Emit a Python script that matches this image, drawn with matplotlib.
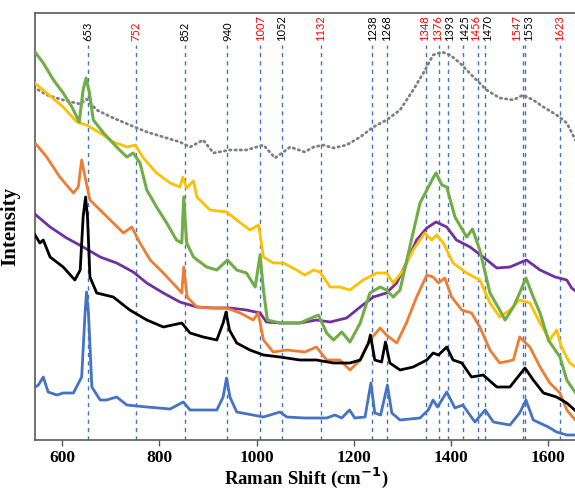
import matplotlib.pyplot as plt

# Raman shift (cm-1) and intensity (arb. units)
gray_x = [541, 568, 602, 637, 650, 671, 705, 739, 774, 808, 842, 863, 890, 911, 945, 979, 1014, 1038, 1069, 1099,
          1117, 1137, 1158, 1185, 1213, 1240, 1267, 1295, 1322, 1343, 1363, 1381, 1398, 1418, 1446, 1473, 1500,
          1528, 1548, 1569, 1590, 1617, 1638, 1659]
gray_y = [353, 345, 340, 336, 341, 330, 322, 315, 308, 303, 298, 293, 300, 287, 290, 290, 295, 282, 293, 288,
          293, 295, 292, 295, 303, 313, 320, 330, 350, 367, 385, 388, 385, 377, 363, 350, 342,
          340, 345, 340, 333, 325, 317, 297]

green_x = [544, 561, 582, 602, 620, 635, 643, 649, 656, 664, 685, 712, 733, 746, 760, 774, 794, 815, 835, 846,
           850, 856, 870, 897, 918, 940, 959, 979, 997, 1007, 1014, 1022, 1048, 1089, 1127, 1144, 1158, 1175,
           1192, 1213, 1233, 1254, 1267, 1281, 1295, 1315, 1336, 1350, 1363, 1369, 1381, 1391, 1408, 1432,
           1444, 1459, 1480, 1500, 1511, 1528, 1541, 1554, 1569, 1583, 1600, 1624, 1638, 1659]
green_y = [388, 377, 360, 347, 333, 318, 350, 362, 347, 320, 307, 293, 283, 287, 277, 250, 233, 217, 200, 197,
           243, 197, 183, 173, 170, 180, 170, 167, 153, 185, 150, 120, 117, 117, 125, 107, 100, 108,
           98, 117, 147, 153, 150, 143, 150, 193, 237, 250, 262, 267, 255, 253, 223, 203,
           211, 190, 147, 130, 120, 133, 147, 162, 143, 127, 100, 83, 60, 45]

yellow_x = [541, 568, 602, 630, 650, 678, 705, 733, 750, 767, 794, 822, 842, 848, 856, 870, 877, 904, 938, 959,
            986, 1004, 1014, 1034, 1055, 1082, 1099, 1117, 1130, 1151, 1171, 1192, 1219, 1247, 1267, 1281,
            1302, 1322, 1346, 1360, 1370, 1384, 1404, 1432, 1459, 1480, 1500, 1521, 1541, 1562, 1583, 1603,
            1617, 1627, 1644, 1659]
yellow_y = [358, 347, 333, 318, 315, 307, 298, 293, 295, 282, 267, 257, 253, 263, 252, 259, 243, 230, 228, 220,
            210, 215, 183, 177, 177, 170, 165, 170, 168, 153, 153, 150, 160, 167, 167, 157,
            170, 190, 207, 200, 205, 197, 177, 167, 160, 137, 123, 130, 140, 137, 117, 100,
            110, 93, 77, 72]

orange_x = [544, 568, 595, 623, 633, 640, 647, 657, 678, 705, 726, 743, 760, 781, 808, 835, 846, 850, 857, 877,
            904, 938, 966, 993, 1003, 1014, 1034, 1062, 1099, 1123, 1144, 1171, 1192, 1213, 1233, 1254, 1267,
            1288, 1308, 1329, 1350, 1363, 1374, 1387, 1401, 1422, 1442, 1459, 1480, 1500, 1528, 1541, 1562,
            1583, 1603, 1624, 1638, 1659]
orange_y = [297, 283, 263, 247, 253, 280, 263, 240, 230, 217, 207, 213, 197, 180, 167, 153, 147, 173, 143, 133,
            132, 132, 127, 120, 127, 100, 88, 90, 88, 93, 80, 80, 70, 80, 100, 112, 105,
            97, 117, 143, 165, 163, 157, 162, 143, 130, 127, 113, 90, 77, 80, 103, 93,
            73, 57, 47, 30, 18]

purple_x = [541, 575, 609, 643, 678, 712, 746, 774, 808, 842, 877, 911, 945, 979, 1007, 1020, 1048, 1089, 1123,
            1151, 1185, 1213, 1240, 1267, 1288, 1308, 1329, 1350, 1369, 1391, 1411, 1439, 1466, 1494, 1521,
            1555, 1583, 1614, 1638, 1648, 1659]
purple_y = [227, 213, 202, 193, 183, 177, 168, 157, 147, 138, 133, 132, 132, 130, 127, 118, 117, 117, 120,
            118, 122, 133, 143, 147, 157, 177, 200, 212, 218, 213, 200, 193, 183, 172, 173,
            180, 170, 163, 160, 152, 148]

black_x = [544, 554, 561, 575, 602, 626, 637, 643, 648, 652, 657, 671, 705, 739, 774, 808, 846, 863, 890, 918,
           931, 937, 944, 959, 986, 1014, 1048, 1089, 1123, 1158, 1192, 1213, 1230, 1234, 1243, 1257, 1265,
           1274, 1295, 1322, 1350, 1363, 1374, 1391, 1404, 1422, 1442, 1466, 1494, 1521, 1552, 1569, 1590,
           1617, 1638, 1659]
black_y = [205, 197, 200, 183, 173, 160, 170, 223, 243, 223, 163, 147, 143, 130, 120, 113, 117, 107, 103, 100,
           117, 128, 110, 97, 90, 85, 83, 80, 80, 77, 77, 80, 97, 105, 80, 78, 98,
           77, 70, 73, 80, 87, 85, 93, 80, 77, 63, 65, 53, 53, 72, 60, 47,
           43, 37, 28]

blue_x = [541, 551, 561, 571, 589, 602, 623, 640, 647, 650, 654, 661, 678, 691, 712, 733, 774, 822, 849, 863,
          918, 931, 938, 945, 959, 1014, 1048, 1062, 1099, 1144, 1161, 1175, 1191, 1202, 1223, 1230, 1235,
          1243, 1255, 1269, 1278, 1295, 1336, 1353, 1363, 1372, 1391, 1408, 1424, 1449, 1470, 1487, 1521,
          1541, 1554, 1569, 1600, 1617, 1638, 1659]
blue_y = [52, 55, 63, 48, 45, 47, 47, 63, 127, 148, 127, 53, 40, 40, 43, 35, 33, 31, 38, 30,
          30, 43, 62, 43, 28, 23, 28, 23, 22, 22, 25, 22, 30, 22, 23, 43, 57,
          27, 25, 55, 27, 20, 22, 30, 40, 33, 48, 32, 35, 18, 30, 18, 15,
          27, 40, 20, 13, 8, 5, 5]

# band positions marked at the top
peaks = [653, 752, 852, 940, 1007, 1052, 1132, 1238, 1268, 1348, 1376, 1393, 1425, 1456, 1470, 1547, 1553, 1623]
red_peaks = [752, 1007, 1132, 1348, 1376, 1456, 1547, 1623]

# small sideways shifts for labels whose lines are close together
nudge = {1348: -3, 1376: -4, 1393: 4, 1425: 3, 1456: -6, 1470: 6, 1547: -13, 1553: 6}

fig = plt.figure(figsize=(5.75, 4.91), dpi=100)
ax = fig.add_axes([35 / 575, 1 - 440 / 491, 542 / 575, 427 / 491])

for p in peaks:
    ax.axvline(p, ymax=0.925, color='#4472C4', lw=1.0, ls=(0, (3, 3)), zorder=1)
    ax.text(p + nudge.get(p, 0), 399, str(p), rotation=90, ha='center', va='bottom', fontsize=8,
            family='Lato', color='#FF0000' if p in red_peaks else 'black')

ax.plot(gray_x, gray_y, color='#7F7F7F', lw=2.0, ls=(0, (0.5, 1.4)), dash_capstyle='round', zorder=2)
ax.plot(blue_x, blue_y, color='#4472C4', lw=2.0, zorder=3)
ax.plot(purple_x, purple_y, color='#7030A0', lw=2.0, zorder=3)
ax.plot(orange_x, orange_y, color='#ED7D31', lw=2.0, zorder=3)
ax.plot(yellow_x, yellow_y, color='#FFC000', lw=2.0, zorder=3)
ax.plot(green_x, green_y, color='#70AD47', lw=2.2, zorder=4)
ax.plot(black_x, black_y, color='black', lw=2.0, zorder=4)

ax.set_xlim(544, 1659)
ax.set_ylim(0, 427)
ax.set_yticks([])
ax.set_xticks([600, 800, 1000, 1200, 1400, 1600])
ax.tick_params(axis='x', direction='out', length=4, width=1, pad=3, colors='#595959', labelcolor='black')
for lab in ax.get_xticklabels():
    lab.set_fontfamily('Liberation Serif')
    lab.set_fontweight('bold')
    lab.set_fontsize(12.5)
for s in ax.spines.values():
    s.set_color('#595959')
    s.set_linewidth(1.2)

ax.set_xlabel('Raman Shift (cm$^{\\mathbf{-1}}$)', family='Liberation Serif', fontweight='bold', fontsize=13.5,
              labelpad=0)
ax.set_ylabel('Intensity', family='Liberation Serif', fontweight='bold', fontsize=15)
ax.yaxis.set_label_coords(-0.028, 0.5)

plt.savefig('out.png', dpi=100)
